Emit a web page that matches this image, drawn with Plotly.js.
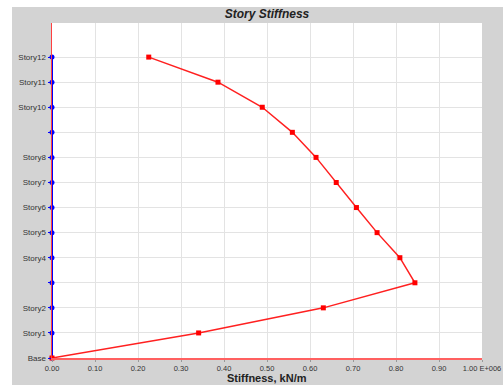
<!DOCTYPE html>
<html>
<head>
<meta charset="utf-8">
<script src="https://cdn.plot.ly/plotly-3.0.1.min.js"></script>
<style>
html,body{margin:0;padding:0;background:#ffffff;overflow:hidden;}
#chart{position:absolute;left:12px;top:7px;width:491px;height:378px;}
</style>
</head>
<body>
<div id="chart"></div>
<script>
const storyLevels = [0,1,2,3,4,5,6,7,8,9,10,11,12];
const storyLabels = ["Base","Story1","Story2","","Story4","Story5","Story6","Story7","Story8","","Story10","Story11","Story12"];
const stiffness = [0, 0.341, 0.631, 0.844, 0.809, 0.756, 0.708, 0.661, 0.614, 0.559, 0.489, 0.386, 0.225];
const baseline = [0,0,0,0,0,0,0,0,0,0,0,0,0];
const xTickVals = [0,0.1,0.2,0.3,0.4,0.5,0.6,0.7,0.8,0.9,1.0];
const xTickText = ["0.00","0.10","0.20","0.30","0.40","0.50","0.60","0.70","0.80","0.90","1.00 E+006"];

const traces = [
  {x: baseline, y: storyLevels, mode: 'lines+markers', line:{color:'#0000ff', width:2},
   marker:{color:'#0000ff', size:5, symbol:'circle'}, hoverinfo:'skip', cliponaxis:false},
  {x: stiffness, y: storyLevels, mode: 'lines+markers', line:{color:'#ff2020', width:1.5},
   marker:{color:'#ff0000', size:5, symbol:'square'}, hoverinfo:'skip', cliponaxis:false}
];

const layout = {
  width: 491, height: 378,
  paper_bgcolor: '#d3d3d3', plot_bgcolor: '#ffffff',
  margin: {l:40, r:21, t:16, b:27},
  showlegend: false,
  font: {family: 'Liberation Sans, Arial, sans-serif', color:'#333333', size:8},
  title: {text: '<b><i>Story Stiffness</i></b>', font:{size:12, color:'#222222'},
          x:0.5, xref:'paper', xanchor:'center', y:1-7/378, yref:'container', yanchor:'middle'},
  xaxis: {range:[0,1], tickvals:xTickVals, ticktext:xTickText, showgrid:true, gridcolor:'#e3e3e3',
          gridwidth:1, zeroline:false, showline:true, linecolor:'#ff6060', linewidth:1.5,
          ticks:'outside', ticklen:2, tickcolor:'#999999', tickfont:{size:7.5, color:'#333333'},
          ticklabeloverflow:'allow'},
  yaxis: {range:[0,13.36], tickvals:storyLevels, ticktext:storyLabels, showgrid:true, gridcolor:'#e3e3e3',
          gridwidth:1, zeroline:false, showline:true, linecolor:'#ff4040', linewidth:1.5,
          ticks:'outside', ticklen:3, tickcolor:'#0000ff', tickfont:{size:8, color:'#333333'}},
  annotations: [
    {text:'<b>Stiffness, kN/m</b>', xref:'paper', yref:'paper', x:0.5, y:0, xanchor:'center',
     yanchor:'top', yshift:-13, borderpad:0, showarrow:false, font:{size:11, color:'#222222'}}
  ]
};

Plotly.newPlot('chart', traces, layout, {displayModeBar:false, staticPlot:true});
</script>
</body>
</html>
